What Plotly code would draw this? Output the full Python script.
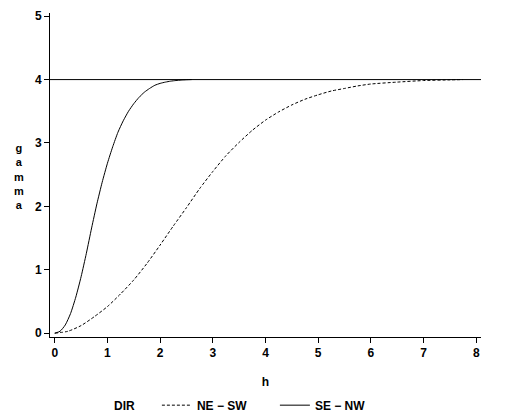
import plotly.graph_objects as go

# --- data ---
h_se_nw = [0.0, 0.1, 0.2, 0.3, 0.4, 0.5, 0.6, 0.7, 0.8, 0.9, 1.0, 1.1, 1.2,
           1.3, 1.4, 1.5, 1.6, 1.7, 1.8, 1.9, 2.0, 2.1, 2.2, 2.3, 2.4, 2.5, 2.6]
gamma_se_nw = [0.0, 0.03, 0.13, 0.31, 0.57, 0.89, 1.26, 1.66, 2.04, 2.38, 2.68,
               2.94, 3.17, 3.35, 3.50, 3.62, 3.72, 3.80, 3.86, 3.91, 3.94, 3.96,
               3.975, 3.985, 3.992, 3.997, 4.0]

h_ne_sw = [0.0, 0.25, 0.5, 0.75, 1.0, 1.25, 1.5, 1.75, 2.0, 2.25, 2.5, 2.75,
           3.0, 3.25, 3.5, 3.75, 4.0, 4.25, 4.5, 4.75, 5.0, 5.25, 5.5, 5.75,
           6.0, 6.5, 7.0, 7.5, 7.75]
gamma_ne_sw = [0.0, 0.03, 0.12, 0.26, 0.42, 0.62, 0.84, 1.10, 1.39, 1.69, 1.98,
               2.28, 2.55, 2.80, 3.01, 3.20, 3.36, 3.49, 3.60, 3.69, 3.76, 3.82,
               3.86, 3.90, 3.93, 3.96, 3.985, 3.995, 4.0]

sill = 4
x_ticks = [0, 1, 2, 3, 4, 5, 6, 7, 8]
y_ticks = [0, 1, 2, 3, 4, 5]

font_main = dict(family="Liberation Sans, Arial, sans-serif", size=12,
                 color="black", weight="bold")

fig = go.Figure()

fig.add_trace(go.Scatter(
    x=h_ne_sw, y=gamma_ne_sw, mode="lines", name="NE \u2212 SW",
    line=dict(color="black", width=1, dash="3px,2px", shape="spline", smoothing=0.6),
))
fig.add_trace(go.Scatter(
    x=h_se_nw, y=gamma_se_nw, mode="lines", name="SE \u2212 NW",
    line=dict(color="black", width=1, shape="spline", smoothing=0.6),
))

# sill reference line
fig.add_hline(y=sill, line=dict(color="black", width=1))

# stacked vertical axis label
fig.add_annotation(
    text="g<br>a<br>m<br>m<br>a", xref="paper", yref="paper",
    x=-0.088, y=0.495, showarrow=False, align="center",
    font=dict(font_main, size=11),
)
# legend heading
fig.add_annotation(
    text="DIR", xref="paper", yref="paper", x=0.143, y=-0.241,
    showarrow=False, font=font_main,
)

# page body adds an 8px offset, so the figure is 8px smaller than the window
fig.update_layout(
    template="none",
    width=498, height=412,
    paper_bgcolor="white", plot_bgcolor="white",
    margin=dict(l=42, r=25, t=5, b=83, autoexpand=False),
    font=font_main,
    showlegend=True,
    legend=dict(
        orientation="h", xref="container", yref="container",
        x=0.299, y=0.036, xanchor="left", yanchor="middle",
        font=font_main, entrywidth=73, entrywidthmode="pixels",
        bgcolor="rgba(0,0,0,0)",
    ),
)

fig.update_xaxes(
    range=[-0.09, 8.09], tickvals=x_ticks, showgrid=False, zeroline=False,
    showline=True, linecolor="black", linewidth=1, automargin=False,
    ticks="outside", ticklen=5, tickcolor="black",
    title=dict(text="h", font=font_main, standoff=18),
)
fig.update_yaxes(
    range=[-0.06, 5.05], tickvals=y_ticks, showgrid=False, zeroline=False,
    showline=True, linecolor="black", linewidth=1, automargin=False,
    ticks="outside", ticklen=5, tickcolor="black",
)

fig.write_html("out.html")
